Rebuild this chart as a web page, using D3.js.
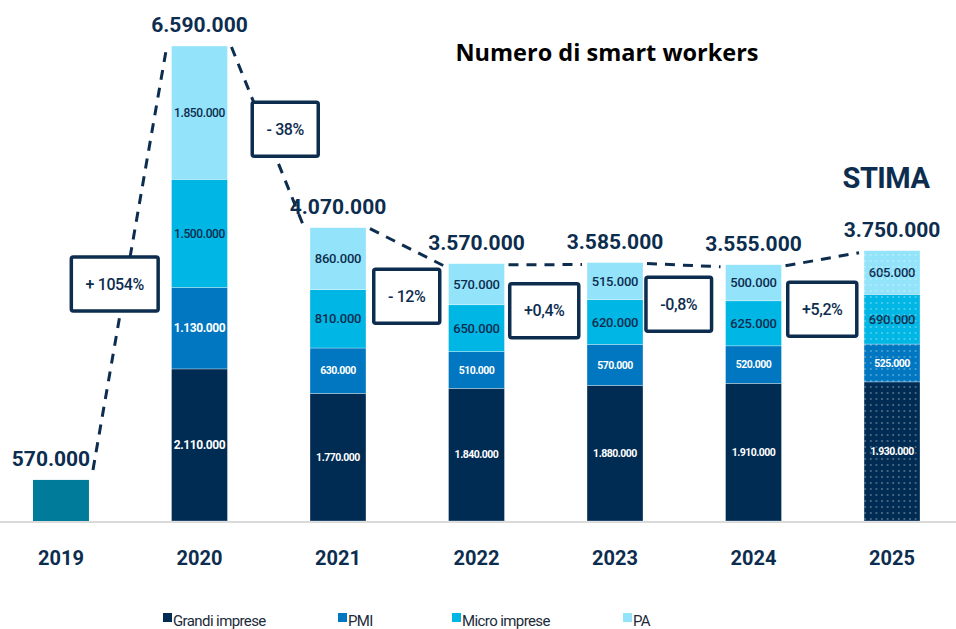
<!DOCTYPE html>
<html>
<head>
<meta charset="utf-8">
<script src="https://cdn.jsdelivr.net/npm/d3@7"></script>
<style>
  body { margin: 0; background: #fff; }
  svg { display: block; }
</style>
</head>
<body>
<div id="chart"></div>
<script>
// data (thousands of workers)
const years = ["2019", "2020", "2021", "2022", "2023", "2024", "2025"];
const categories = ["Grandi imprese", "PMI", "Micro imprese", "PA"];
const grandi = [0, 2110, 1770, 1840, 1880, 1910, 1930];
const pmi = [0, 1130, 630, 510, 570, 520, 525];
const micro = [0, 1500, 810, 650, 620, 625, 690];
const pa = [0, 1850, 860, 570, 515, 500, 605];
const totals = [570, 6590, 4070, 3570, 3585, 3555, 3750];
const changes = ["+ 1054%", "- 38%", "- 12%", "+0,4%", "-0,8%", "+5,2%"];

// layout tweaks for the annotation boxes (offset from the dashed line midpoint)
const boxDx = [-15, 17, 0, -1, -5, 0];
const boxDy = [25, -9, 49, 46, 39, 50];

const width = 956, height = 629;
const navy = "#0d2d4f";
const colors = ["#002b52", "#0077c0", "#00b6e4", "#93e4fb"];
const textColors = ["#fff", "#fff", navy, navy];

const svg = d3.select("#chart").append("svg")
    .attr("width", width)
    .attr("height", height);

const defs = svg.append("defs");
const pat = defs.append("pattern")
    .attr("id", "dots")
    .attr("patternUnits", "userSpaceOnUse")
    .attr("width", 5.6)
    .attr("height", 6);
pat.append("circle")
    .attr("cx", 2.8).attr("cy", 3).attr("r", 0.65)
    .attr("fill", "#fff").attr("opacity", 0.75);

const x = d3.scaleBand()
    .domain(years)
    .range([33, 920])
    .paddingInner(0.596)
    .paddingOuter(0);

const y = d3.scaleLinear()
    .domain([0, 6590])
    .range([521, 46]);

// baseline
svg.append("line")
    .attr("x1", 0).attr("x2", width)
    .attr("y1", y(0) + 1).attr("y2", y(0) + 1)
    .attr("stroke", "#dadada")
    .attr("stroke-width", 2);

// stacked data
let rows = years.map((yr, i) => ({
    year: yr,
    "Grandi imprese": grandi[i],
    "PMI": pmi[i],
    "Micro imprese": micro[i],
    "PA": pa[i]
}));
const stacked = d3.stack().keys(categories)(rows.slice(1));

// 2019 single bar
svg.append("rect")
    .attr("x", x("2019"))
    .attr("y", y(totals[0]))
    .attr("width", x.bandwidth())
    .attr("height", y(0) - y(totals[0]))
    .attr("fill", "#007b9a");

const layers = svg.selectAll("g.layer").data(stacked).enter().append("g")
    .attr("class", "layer");

layers.selectAll("rect").data(d => d).enter().append("rect")
    .attr("x", d => x(d.data.year))
    .attr("y", d => y(d[1]))
    .attr("width", x.bandwidth())
    .attr("height", d => y(d[0]) - y(d[1]))
    .attr("fill", function () { return colors[categories.indexOf(d3.select(this.parentNode).datum().key)]; })
    .attr("stroke", "rgba(255,255,255,0.5)")
    .attr("stroke-width", 0.6);

// estimate pattern on 2025
svg.append("rect")
    .attr("x", x("2025"))
    .attr("y", y(totals[6]))
    .attr("width", x.bandwidth())
    .attr("height", y(0) - y(totals[6]))
    .attr("fill", "url(#dots)");

// segment labels
const fmt = v => d3.format(",")(v * 1000).replace(/,/g, ".");
layers.each(function (layer, li) {
    d3.select(this).selectAll("text").data(layer).enter().append("text")
        .attr("x", d => x(d.data.year) + x.bandwidth() / 2)
        .attr("y", d => (y(d[0]) + y(d[1])) / 2)
        .attr("dy", "0.35em")
        .attr("text-anchor", "middle")
        .attr("font-family", "Roboto, sans-serif")
        .attr("font-size", d => d.data.year === "2020" ? 12 : (li < 2 ? 10.5 : 13))
        .attr("font-weight", li < 2 ? "bold" : "500")
        .attr("letter-spacing", d => d.data.year === "2020" ? "-0.4px" : (li < 2 ? "-0.5px" : "-0.2px"))
        .attr("fill", textColors[li])
        .text(d => fmt(d[1] - d[0]));
});

// dashed connectors
const links = d3.range(years.length - 1).map(i => ({
    x1: x(years[i]) + x.bandwidth() + 4,
    y1: y(totals[i]) + (i === 0 ? -10 : 1),
    x2: x(years[i + 1]) - 5,
    y2: y(totals[i + 1]) + 2,
    label: changes[i],
    i: i
}));

svg.selectAll("line.link").data(links).enter().append("line")
    .attr("class", "link")
    .attr("x1", d => d.x1).attr("y1", d => d.y1)
    .attr("x2", d => d.x2).attr("y2", d => d.y2)
    .attr("stroke", navy)
    .attr("stroke-width", 3)
    .attr("stroke-dasharray", "10,8");

// change boxes
const boxes = svg.selectAll("g.box").data(links).enter().append("g")
    .attr("class", "box")
    .attr("transform", d => `translate(${(d.x1 + d.x2) / 2 + boxDx[d.i]},${(d.y1 + d.y2) / 2 + boxDy[d.i]})`);

boxes.append("text")
    .attr("text-anchor", "middle")
    .attr("dy", "0.35em")
    .attr("font-family", "Roboto, sans-serif")
    .attr("font-size", 16)
    .attr("font-weight", "500")
    .attr("letter-spacing", "-0.4px")
    .attr("fill", navy)
    .text(d => d.label);

boxes.each(function () {
    const g = d3.select(this);
    const bb = g.select("text").node().getBBox();
    const w = Math.max(bb.width + 28, 64);
    g.insert("rect", "text")
        .attr("x", -w / 2).attr("y", -27)
        .attr("width", w).attr("height", 54)
        .attr("rx", 2)
        .attr("fill", "#fff")
        .attr("stroke", navy)
        .attr("stroke-width", 3.5);
});

// totals
svg.selectAll("text.total").data(totals).enter().append("text")
    .attr("class", "total")
    .attr("x", (d, i) => x(years[i]) + x.bandwidth() / 2 + (i === 0 ? -10 : 0))
    .attr("y", d => y(d) - 14)
    .attr("text-anchor", "middle")
    .attr("font-family", "Roboto, sans-serif")
    .attr("font-weight", "bold")
    .attr("font-size", 21)
    .attr("fill", navy)
    .text(d => fmt(d));

// year axis labels
svg.selectAll("text.year").data(years).enter().append("text")
    .attr("class", "year")
    .attr("x", d => x(d) + x.bandwidth() / 2)
    .attr("y", 565)
    .attr("text-anchor", "middle")
    .attr("font-family", "Roboto, sans-serif")
    .attr("font-weight", "bold")
    .attr("font-size", 20)
    .attr("fill", navy)
    .text(d => d);

// STIMA
svg.append("text")
    .attr("x", x("2025") + x.bandwidth() / 2 - 6)
    .attr("y", 188)
    .attr("text-anchor", "middle")
    .attr("font-family", "Roboto, sans-serif")
    .attr("font-weight", "bold")
    .attr("font-size", 29)
    .attr("letter-spacing", "-0.5px")
    .attr("fill", navy)
    .text("STIMA");

// title
svg.append("text")
    .attr("x", 607)
    .attr("y", 61)
    .attr("text-anchor", "middle")
    .attr("font-family", "'Open Sans', sans-serif")
    .attr("font-weight", "bold")
    .attr("font-size", 23.5)
    .attr("fill", "#000")
    .text("Numero di smart workers");

// legend
const legendX = [163, 338, 452, 623];
const legend = svg.selectAll("g.legend").data(categories).enter().append("g")
    .attr("class", "legend")
    .attr("transform", (d, i) => `translate(${legendX[i]},613)`);
legend.append("rect")
    .attr("width", 9).attr("height", 9)
    .attr("fill", (d, i) => colors[i]);
legend.append("text")
    .attr("x", 10)
    .attr("y", 13)
    .attr("font-family", "Roboto, sans-serif")
    .attr("font-size", 15)
    .attr("letter-spacing", "-0.6px")
    .attr("fill", "#1c2b3a")
    .text(d => d);
</script>
</body>
</html>
